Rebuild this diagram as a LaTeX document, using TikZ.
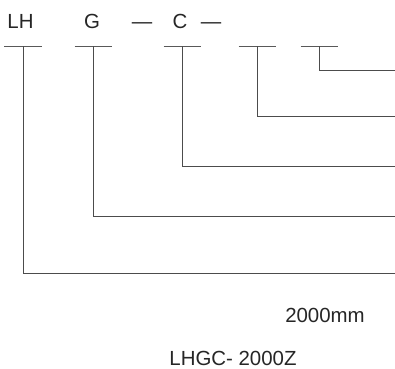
\documentclass[tikz,border=0pt]{standalone}
\usepackage{fontspec}
\setmainfont{Liberation Sans}

\begin{document}
\begin{tikzpicture}[x=1bp, y=-1bp,
        code/.style={inner sep=0pt, anchor=base, text=black!85, font=\fontsize{20.5}{20.5}\selectfont},
        bar/.style={line width=1bp, draw=black!65},
        lead/.style={line width=1bp, draw=black!70}
    ]
        \useasboundingbox (0,0) rectangle (395,369);

        % Model code letters
        \node[code] (lh) at (20.5,28) {LH};
        \node[code] (g) at (92,28) {G};
        \node[code] (dasha) at (142,28) {—};
        \node[code] (c) at (180,28) {C};
        \node[code] (dashb) at (211,28) {—};

        % Bars under each position and leaders to the right edge
        \foreach \x/\y [count=\i] in {23/273, 93/216, 182/166, 257/116, 319/70} {
            \coordinate (top\i) at (\x,46);
            \coordinate (end\i) at (395,\y);
            \draw[bar] (\x-18.5,46) -- (\x+18.5,46);
            \draw[lead] (top\i) |- (end\i);
        }

        % Example below
        \node[code] (len) at (325,322) {2000mm};
        \node[code] (model) at (233,365) {LHGC- 2000Z};

    \end{tikzpicture}
\end{document}
